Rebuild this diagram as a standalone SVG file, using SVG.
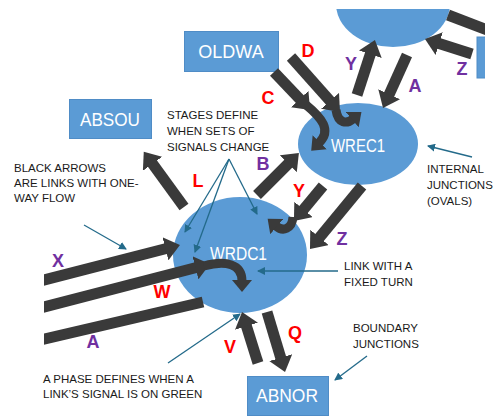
<svg xmlns="http://www.w3.org/2000/svg" width="498" height="417" viewBox="0 0 498 417">
<style>
.nd{fill:#5b9bd5}
.bx{fill:#5b9bd5;stroke:#4f8cc6;stroke-width:1}
.nt{font-family:"Liberation Sans",Arial,sans-serif;font-size:18px;fill:#fff;text-anchor:middle}
.lk{stroke:#3a3a3a;stroke-width:11;fill:none}
.tn{stroke:#3a3a3a;stroke-width:9;fill:none}
.pt{stroke:#236a8a;stroke-width:1.3;fill:none}
.lr{font-family:"Liberation Sans",Arial,sans-serif;font-size:18px;font-weight:bold;fill:#ff0000;text-anchor:middle}
.lp{font-family:"Liberation Sans",Arial,sans-serif;font-size:18px;font-weight:bold;fill:#7030a0;text-anchor:middle}
.an{font-family:"Liberation Sans",Arial,sans-serif;font-size:11.5px;fill:#1a1a1a}
</style>
<defs>
<marker id="ah" markerUnits="userSpaceOnUse" markerWidth="16" markerHeight="24" viewBox="0 0 16 24" refX="1" refY="12" orient="auto"><path d="M0,0 L15,12 L0,24 z" fill="#3a3a3a"/></marker>
<marker id="as" markerUnits="userSpaceOnUse" markerWidth="13" markerHeight="20" viewBox="0 0 13 20" refX="1" refY="10" orient="auto"><path d="M0,0 L12,10 L0,20 z" fill="#3a3a3a"/></marker>
<marker id="ap" markerUnits="userSpaceOnUse" markerWidth="8" markerHeight="8" viewBox="0 0 8 8" refX="7" refY="4" orient="auto"><path d="M0,0 L8,4 L0,8 z" fill="#236a8a"/></marker>
<clipPath id="cR"><rect x="0" y="9" width="485" height="408"/></clipPath>
<clipPath id="cL"><rect x="44" y="0" width="454" height="417"/></clipPath>
</defs>

<g id="top-oval" clip-path="url(#cR)"><ellipse class="nd" cx="393" cy="4" rx="57" ry="43"/></g>
<g id="top-right-box" clip-path="url(#cR)"><rect class="bx" x="477" y="37" width="20" height="41"/></g>
<g id="WREC1"><ellipse class="nd" cx="358" cy="144" rx="60" ry="41"/><text class="nt" x="358" y="152" textLength="54" lengthAdjust="spacingAndGlyphs">WREC1</text></g>
<g id="WRDC1"><ellipse class="nd" cx="240" cy="255" rx="67" ry="58"/><text class="nt" x="238.5" y="260" textLength="57" lengthAdjust="spacingAndGlyphs">WRDC1</text></g>
<g id="OLDWA"><rect class="bx" x="184.5" y="31.5" width="94" height="40"/><text class="nt" x="231" y="58">OLDWA</text></g>
<g id="ABSOU"><rect class="bx" x="69.5" y="99.5" width="82" height="39"/><text class="nt" x="110" y="126" textLength="60" lengthAdjust="spacingAndGlyphs">ABSOU</text></g>
<g id="ABNOR"><rect class="bx" x="247.5" y="376.5" width="81" height="39"/><text class="nt" x="287" y="402" textLength="62" lengthAdjust="spacingAndGlyphs">ABNOR</text></g>

<g id="connectors">
<line class="lk" x1="448" y1="15" x2="495" y2="33" clip-path="url(#cR)"/>
<line class="lk" x1="472" y1="54" x2="438.3" y2="43.3" marker-end="url(#ah)"/>
<line class="lk" x1="407" y1="55" x2="388.8" y2="95.2" marker-end="url(#ah)"/>
<line class="lk" x1="357" y1="95" x2="370.6" y2="53.3" marker-end="url(#ah)"/>
<line class="lk" x1="291" y1="57" x2="330.7" y2="101.6" marker-end="url(#ah)"/>
<path class="tn" d="M336,110 C338,124 347,124 353,119" marker-end="url(#as)"/>
<line class="lk" x1="274" y1="72" x2="300.4" y2="99.8" marker-end="url(#ah)"/>
<path class="tn" d="M305,104 C322,118 332,130 319,143" marker-end="url(#as)"/>
<line class="lk" x1="184" y1="207" x2="152" y2="163" marker-end="url(#ah)"/>
<line class="lk" x1="257" y1="195" x2="289" y2="163" marker-end="url(#ah)"/>
<line class="lk" x1="323" y1="186" x2="302.9" y2="210.2" marker-end="url(#ah)"/>
<path class="tn" d="M293,217 C292,229 283,232 276,226" marker-end="url(#as)"/>
<line class="lk" x1="362" y1="186" x2="318.9" y2="238.2" marker-end="url(#ah)"/>
<line class="lk" x1="30" y1="283.6" x2="166.4" y2="248.5" marker-end="url(#ah)" clip-path="url(#cL)"/>
<line class="lk" x1="30" y1="310.6" x2="196.4" y2="267.5" marker-end="url(#ah)" clip-path="url(#cL)"/>
<path class="tn" d="M204,266 C226,260 242,264 242,281" marker-end="url(#as)"/>
<line class="lk" x1="30" y1="342.3" x2="203" y2="302" clip-path="url(#cL)"/>
<line class="lk" x1="258" y1="363" x2="246.2" y2="325.3" marker-end="url(#ah)"/>
<line class="lk" x1="267" y1="312" x2="281" y2="358.6" marker-end="url(#ah)"/>

<line class="pt" x1="84" y1="225" x2="126" y2="249" marker-end="url(#ap)"/>
<line class="pt" x1="229" y1="159" x2="185" y2="232" marker-end="url(#ap)"/>
<line class="pt" x1="229" y1="159" x2="195" y2="252" marker-end="url(#ap)"/>
<line class="pt" x1="229" y1="159" x2="257" y2="214" marker-end="url(#ap)"/>
<line class="pt" x1="472" y1="157" x2="428" y2="146" marker-end="url(#ap)"/>
<line class="pt" x1="338" y1="271" x2="258" y2="271" marker-end="url(#ap)"/>
<line class="pt" x1="367" y1="356" x2="335" y2="380" marker-end="url(#ap)"/>
<line class="pt" x1="168" y1="363" x2="240" y2="314" marker-end="url(#ap)"/>
</g>

<g id="link-labels">
<text class="lr" x="308" y="57">D</text>
<text class="lr" x="268" y="104">C</text>
<text class="lp" x="351" y="70">Y</text>
<text class="lp" x="415" y="92">A</text>
<text class="lp" x="462" y="75">Z</text>
<text class="lr" x="198" y="187">L</text>
<text class="lp" x="263" y="170">B</text>
<text class="lr" x="299" y="197">Y</text>
<text class="lp" x="342" y="245">Z</text>
<text class="lp" x="58" y="267">X</text>
<text class="lr" x="162" y="298">W</text>
<text class="lp" x="93" y="348">A</text>
<text class="lr" x="230" y="353">V</text>
<text class="lr" x="295" y="339">Q</text>
</g>

<g id="annotations">
<text class="an" x="167" y="119">STAGES DEFINE</text>
<text class="an" x="167" y="135">WHEN SETS OF</text>
<text class="an" x="167" y="151">SIGNALS CHANGE</text>
<text class="an" x="14" y="172">BLACK ARROWS</text>
<text class="an" x="14" y="187">ARE LINKS WITH ONE-</text>
<text class="an" x="14" y="202">WAY FLOW</text>
<text class="an" x="427" y="173">INTERNAL</text>
<text class="an" x="427" y="189">JUNCTIONS</text>
<text class="an" x="427" y="205">(OVALS)</text>
<text class="an" x="344" y="270">LINK WITH A</text>
<text class="an" x="344" y="286">FIXED TURN</text>
<text class="an" x="353" y="332">BOUNDARY</text>
<text class="an" x="353" y="348">JUNCTIONS</text>
<text class="an" x="43" y="383">A PHASE DEFINES WHEN A</text>
<text class="an" x="43" y="398">LINK’S SIGNAL IS ON GREEN</text>
</g>
</svg>
